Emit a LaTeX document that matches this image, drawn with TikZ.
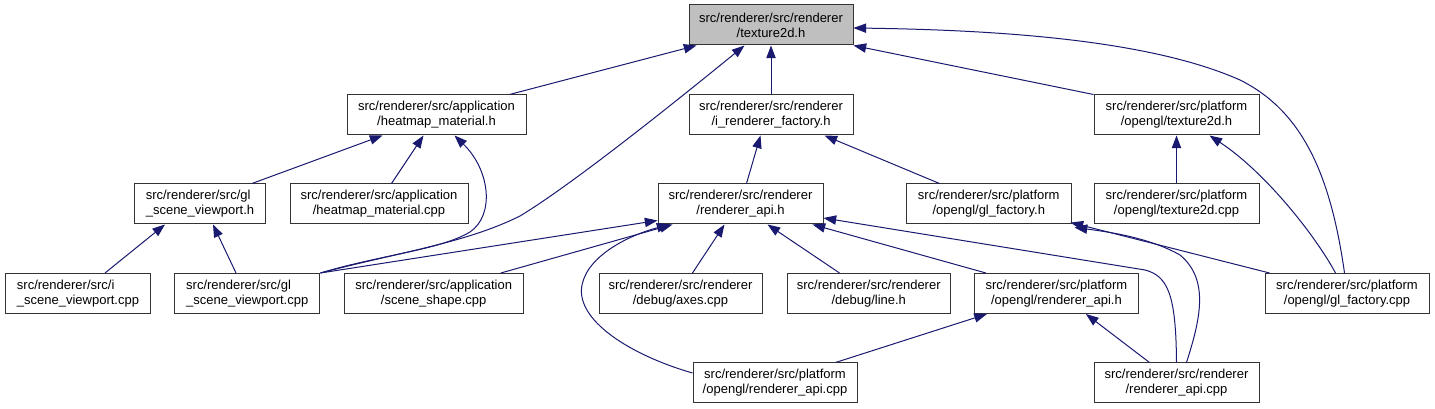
\documentclass[tikz,border=0pt]{standalone}
\usepackage{fontspec}
\setmainfont{Liberation Sans}
\usetikzlibrary{arrows.meta,calc}
\definecolor{edgeblue}{HTML}{191970}
\definecolor{boxgray}{HTML}{BFBFBF}
\begin{document}
\begin{tikzpicture}[x=0.75pt,y=-0.75pt,
 box/.style={draw=black!80, line width=0.75pt, minimum height=30pt, inner sep=0pt, align=center, font=\fontsize{9.75pt}{11.25pt}\selectfont},
 lbox/.style={box, align=left},
 focus/.style={box, fill=boxgray},
 dep/.style={draw=edgeblue, line width=0.75pt, -{Triangle[length=9.5pt,width=7pt]}}]
\useasboundingbox (0,0) rectangle (1435,409);

\node[focus, minimum width=123pt] (tex) at (771,25) {src/renderer/src/renderer\\/texture2d.h};
\node[box, minimum width=134.25pt] (hmh) at (436.5,115) {src/renderer/src/application\\/heatmap\_material.h};
\node[box, minimum width=123pt] (irf) at (771,115) {src/renderer/src/renderer\\/i\_renderer\_factory.h};
\node[box, minimum width=123.75pt] (ptexh) at (1176.5,115) {src/renderer/src/platform\\/opengl/texture2d.h};
\node[lbox, minimum width=98.25pt] (glsvh) at (200,204) {src/renderer/src/gl\\\_scene\_viewport.h};
\node[box, minimum width=133.5pt] (hmcpp) at (379,204) {src/renderer/src/application\\/heatmap\_material.cpp};
\node[box, minimum width=123.75pt] (rapih) at (740.5,204) {src/renderer/src/renderer\\/renderer\_api.h};
\node[box, minimum width=123.4pt] (glfh) at (988.75,204) {src/renderer/src/platform\\/opengl/gl\_factory.h};
\node[box, minimum width=123.75pt] (ptexcpp) at (1176.5,204) {src/renderer/src/platform\\/opengl/texture2d.cpp};
\node[lbox, minimum width=108.75pt] (isvcpp) at (78,293.5) {src/renderer/src/i\\\_scene\_viewport.cpp};
\node[lbox, minimum width=109.1pt] (glsvcpp) at (247.25,293.5) {src/renderer/src/gl\\\_scene\_viewport.cpp};
\node[box, minimum width=134pt] (sscpp) at (433.7,293.5) {src/renderer/src/application\\/scene\_shape.cpp};
\node[box, minimum width=122.25pt] (axes) at (680.5,293.5) {src/renderer/src/renderer\\/debug/axes.cpp};
\node[box, minimum width=122.6pt] (lineh) at (868.75,293.5) {src/renderer/src/renderer\\/debug/line.h};
\node[box, minimum width=123pt] (oapih) at (1056.4,293.5) {src/renderer/src/platform\\/opengl/renderer\_api.h};
\node[box, minimum width=123pt] (glfcpp) at (1347,293.5) {src/renderer/src/platform\\/opengl/gl\_factory.cpp};
\node[box, minimum width=123pt] (oapicpp) at (775,383) {src/renderer/src/platform\\/opengl/renderer\_api.cpp};
\node[box, minimum width=123.75pt] (rapicpp) at (1176.5,383) {src/renderer/src/renderer\\/renderer\_api.cpp};

\draw[dep] ($(hmh.north west)+(163,0)$) -- ($(tex.south west)+(8,0)$);
\draw[dep] (glsvcpp.north east) .. controls (400,252) and (466,243) .. (520,216) .. controls (575,183) and (690,90) .. ($(tex.south west)+(56,0)$);
\draw[dep] (irf.north) -- (tex.south);
\draw[dep] (ptexh.north west) -- (tex.south east);
\draw[dep] ($(glfcpp.north west)+(80,0)$) .. controls (1330,170) and (1300,110) .. (1240,80) .. controls (1150,40) and (1000,30) .. ($(tex.east)+(0,3)$);
\draw[dep] ($(hmcpp.north west)+(102,0)$) -- ($(hmh.south west)+(77,0)$);
\draw[dep] ($(glsvh.north west)+(118,0)$) -- ($(hmh.south west)+(36,0)$);
\draw[dep] (glsvcpp.north east) .. controls (380,255) and (440,250) .. (470,232) .. controls (495,215) and (490,170) .. ($(hmh.south west)+(108,0)$);
\draw[dep] ($(rapih.north west)+(89,0)$) -- ($(irf.south west)+(72,0)$);
\draw[dep] ($(glfh.north west)+(33.5,0)$) -- ($(irf.south west)+(136,0)$);
\draw[dep] (ptexcpp.north) -- (ptexh.south);
\draw[dep] ($(glfcpp.north west)+(71,0)$) .. controls (1315,235) and (1265,172) .. ($(ptexh.south west)+(116,0)$);
\draw[dep] ($(isvcpp.north west)+(100,0)$) -- ($(glsvh.south west)+(31,0)$);
\draw[dep] ($(glsvcpp.north west)+(62,0)$) -- ($(glsvh.south west)+(79,0)$);
\draw[dep] (glsvcpp.north east) -- ($(rapih.south west)+(0,-4)$);
\draw[dep] ($(sscpp.north west)+(157,0)$) -- ($(rapih.south west)+(15,0)$);
\draw[dep] ($(oapicpp.west)+(0,-10)$) .. controls (630,355) and (575,320) .. (582,285) .. controls (588,255) and (630,235) .. ($(rapih.south west)+(12,0)$);
\draw[dep] ($(axes.north west)+(94,0)$) -- ($(rapih.south west)+(67,0)$);
\draw[dep] ($(lineh.north west)+(53,0)$) -- ($(rapih.south west)+(110,0)$);
\draw[dep] ($(oapih.north west)+(12,0)$) -- ($(rapih.south east)+(-11,0)$);
\draw[dep] (rapicpp.north) .. controls (1176,295) and (1168,276) .. (1145,270) -- ($(rapih.east)+(0,14)$);
\draw[dep] ($(oapicpp.north east)+(-22,0)$) -- ($(oapih.south west)+(13,0)$);
\draw[dep] ($(rapicpp.north west)+(56,0)$) -- ($(oapih.south west)+(112,0)$);
\draw[dep] ($(rapicpp.north)+(10,0)$) .. controls (1200,320) and (1210,280) .. (1180,255) .. controls (1150,238) and (1110,232) .. ($(glfh.south east)+(3,3)$);
\draw[dep] ($(glfcpp.north west)+(5,0)$) -- ($(glfh.south east)+(-1,-2)$);
\end{tikzpicture}
\end{document}
